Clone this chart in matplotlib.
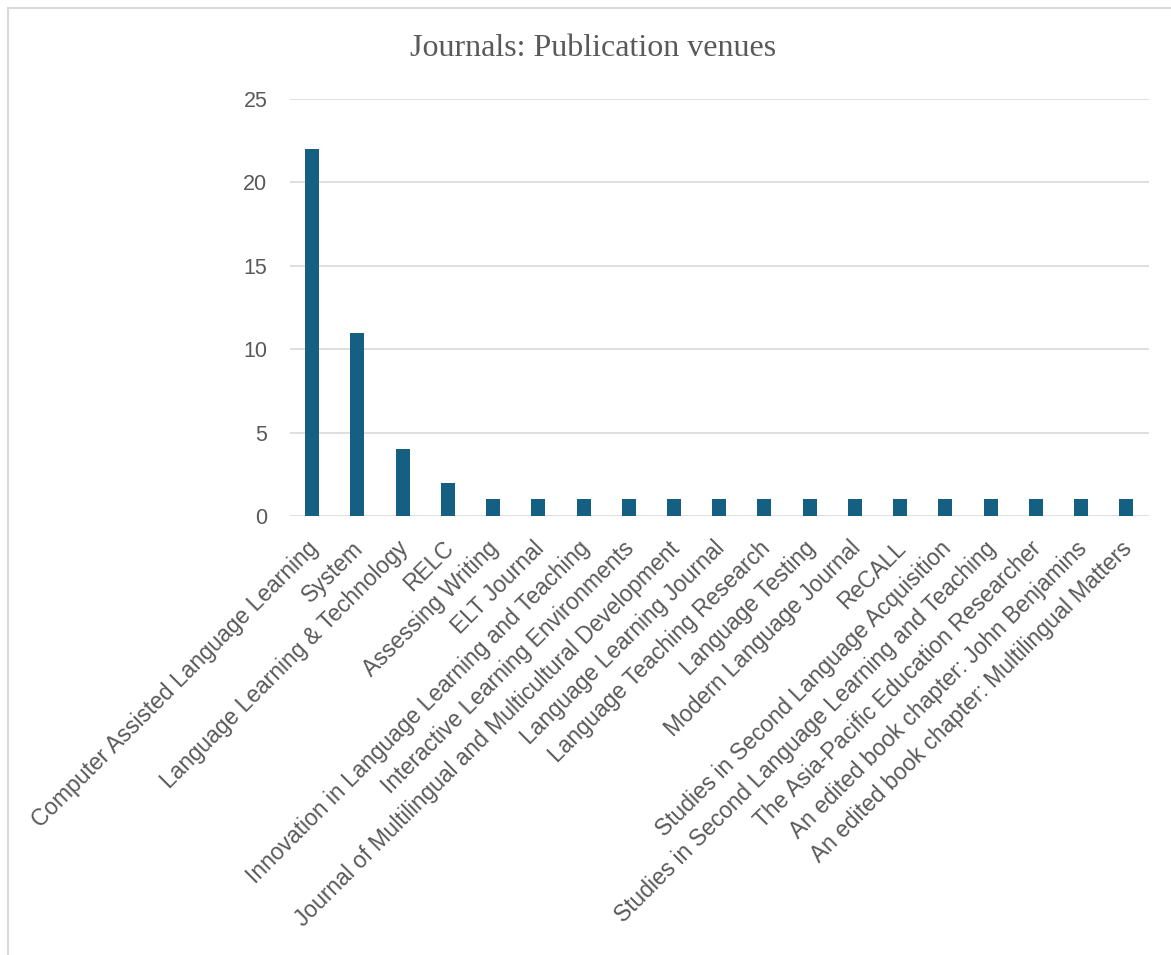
import matplotlib
matplotlib.use("Agg")
import matplotlib.pyplot as plt
from matplotlib.patches import Rectangle
from matplotlib.transforms import ScaledTranslation

venues = [
    "Computer Assisted Language Learning",
    "System",
    "Language Learning & Technology",
    "RELC",
    "Assessing Writing",
    "ELT Journal",
    "Innovation in Language Learning and Teaching",
    "Interactive Learning Environments",
    "Journal of Multilingual and Multicultural Development",
    "Language Learning Journal",
    "Language Teaching Research",
    "Language Testing",
    "Modern Language Journal",
    "ReCALL",
    "Studies in Second Language Acquisition",
    "Studies in Second Language Learning and Teaching",
    "The Asia-Pacific Education Researcher",
    "An edited book chapter: John Benjamins",
    "An edited book chapter: Multilingual Matters",
]
counts = [22, 11, 4, 2, 1, 1, 1, 1, 1, 1, 1, 1, 1, 1, 1, 1, 1, 1, 1]
y_ticks = [0, 5, 10, 15, 20, 25]

W, H = 1171, 955
fig = plt.figure(figsize=(W / 100, H / 100), dpi=100)
fig.patch.set_facecolor("white")

SANS = ["Liberation Sans", "DejaVu Sans"]

# outer frame (extends off right/bottom)
fig.add_artist(Rectangle((8 / W, -0.01), 1.2, 1 - 8 / H + 0.01, transform=fig.transFigure,
                         fill=False, edgecolor="#d9d9d9", linewidth=1.5))

ax = fig.add_axes([289.5 / W, 1 - 516 / H, (1149 - 289.5) / W, (516 - 99) / H])
x = list(range(len(venues)))
ax.bar(x, counts, width=0.31, color="#156082", zorder=3)
ax.set_xlim(-0.5, len(venues) - 0.5)
ax.set_ylim(0, 25)
ax.set_yticks(y_ticks)
ax.grid(axis="y", color="#d9d9d9", linewidth=1.2, zorder=0)
for s in ax.spines.values():
    s.set_visible(False)
ax.tick_params(axis="both", length=0, labelcolor="#595959")
ax.tick_params(axis="y", pad=16)
ax.set_yticklabels([str(v) for v in y_ticks], family=SANS, fontsize=15.5)
ax.set_xticks(x)
ax.set_xticklabels(venues, rotation=45, ha="right", rotation_mode="anchor",
                   family=SANS, fontsize=16.4)
ax.tick_params(axis="x", pad=15)
shift = ScaledTranslation(-6 / 100, 0, fig.dpi_scale_trans)
for lbl in ax.get_xticklabels():
    lbl.set_transform(lbl.get_transform() + shift)

fig.text(593 / W, 1 - 49 / H, "Journals: Publication venues", ha="center", va="center",
         family=["Liberation Serif", "DejaVu Serif"], fontsize=23, color="#595959")

fig.savefig("out.png", dpi=100, facecolor="white")
